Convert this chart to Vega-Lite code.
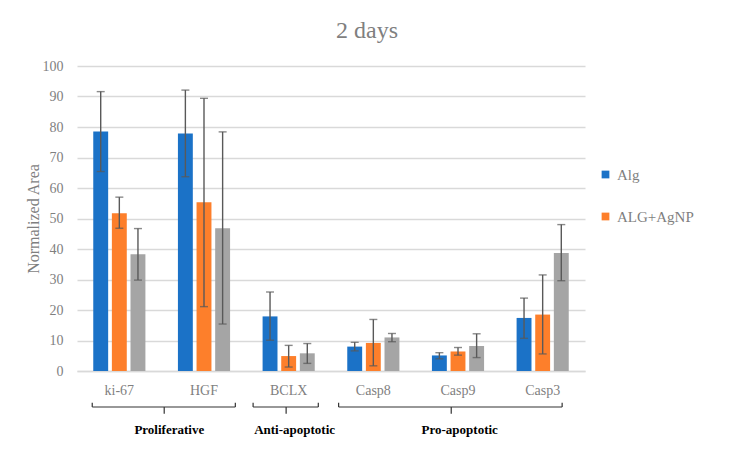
{
  "$schema": "https://vega.github.io/schema/vega-lite/v6.json",
  "autosize": "none",
  "width": 508,
  "height": 305,
  "padding": {"left": 77, "top": 66, "right": 151, "bottom": 87},
  "background": "white",
  "title": {"text": "2 days", "anchor": "middle", "frame": "group", "dx": 36, "offset": 16, "font": "Liberation Serif", "fontSize": 24, "fontWeight": "normal", "color": "#7f7f7f"},
  "config": {
    "view": {"stroke": null},
    "font": "Liberation Serif",
    "axisY": {"values": [0,10,20,30,40,50,60,70,80,90,100], "labelOverlap": false, "labelFontSize": 14, "labelColor": "#7f7f7f", "labelPadding": 14, "ticks": false, "domain": false, "gridColor": "#d9d9d9", "gridWidth": 1.3, "titleFontSize": 16, "titleFontWeight": "normal", "titleColor": "#7f7f7f", "titlePadding": 1}
  },
  "datasets": {
    "main": [
      {"cat": "ki-67", "series": "Alg", "value": 78.5, "lo": 65.4, "hi": 91.6},
      {"cat": "ki-67", "series": "ALG+AgNP", "value": 51.7, "lo": 46.8, "hi": 57.0},
      {"cat": "ki-67", "series": "AgNP", "value": 38.3, "lo": 29.8, "hi": 46.7},
      {"cat": "HGF", "series": "Alg", "value": 77.9, "lo": 63.7, "hi": 92.1},
      {"cat": "HGF", "series": "ALG+AgNP", "value": 55.3, "lo": 21.1, "hi": 89.4},
      {"cat": "HGF", "series": "AgNP", "value": 46.8, "lo": 15.4, "hi": 78.4},
      {"cat": "BCLX", "series": "Alg", "value": 17.9, "lo": 10.1, "hi": 25.9},
      {"cat": "BCLX", "series": "ALG+AgNP", "value": 4.9, "lo": 1.3, "hi": 8.4},
      {"cat": "BCLX", "series": "AgNP", "value": 5.8, "lo": 2.5, "hi": 9.0},
      {"cat": "Casp8", "series": "Alg", "value": 8.0, "lo": 6.6, "hi": 9.4},
      {"cat": "Casp8", "series": "ALG+AgNP", "value": 9.2, "lo": 1.7, "hi": 16.9},
      {"cat": "Casp8", "series": "AgNP", "value": 11.0, "lo": 9.6, "hi": 12.3},
      {"cat": "Casp9", "series": "Alg", "value": 5.1, "lo": 4.0, "hi": 6.0},
      {"cat": "Casp9", "series": "ALG+AgNP", "value": 6.4, "lo": 5.2, "hi": 7.7},
      {"cat": "Casp9", "series": "AgNP", "value": 8.2, "lo": 4.4, "hi": 12.2},
      {"cat": "Casp3", "series": "Alg", "value": 17.4, "lo": 10.7, "hi": 23.9},
      {"cat": "Casp3", "series": "ALG+AgNP", "value": 18.5, "lo": 5.6, "hi": 31.5},
      {"cat": "Casp3", "series": "AgNP", "value": 38.7, "lo": 29.6, "hi": 48.0}
    ],
    "brackets": [
      {"group": "Proliferative", "x0": 0.18, "x1": 1.87, "xm": 1.03, "xl": 1.09},
      {"group": "Anti-apoptotic", "x0": 2.08, "x1": 2.85, "xm": 2.47, "xl": 2.57},
      {"group": "Pro-apoptotic", "x0": 3.09, "x1": 5.73, "xm": 4.42, "xl": 4.52}
    ]
  },
  "resolve": {"scale": {"x": "independent"}},
  "layer": [
    {
      "data": {"name": "main"},
      "encoding": {
        "x": {"field": "cat", "type": "nominal", "sort": ["ki-67", "HGF", "BCLX", "Casp8", "Casp9", "Casp3"],
              "scale": {"paddingInner": 0.34, "paddingOuter": 0.17},
              "axis": {"title": null, "labelAngle": 0, "labelFontSize": 14, "labelColor": "#7f7f7f", "labelPadding": 12, "ticks": false, "domainColor": "#d9d9d9", "domainWidth": 1.3}},
        "xOffset": {"field": "series", "type": "nominal", "sort": ["Alg", "ALG+AgNP", "AgNP"], "scale": {"paddingInner": 0.2, "paddingOuter": 0.1}}
      },
      "layer": [
        {
          "mark": {"type": "bar"},
          "encoding": {
            "y": {"field": "value", "type": "quantitative",
                  "scale": {"domain": [0, 100]},
                  "axis": {"title": "Normalized Area"}},
            "color": {"field": "series", "type": "nominal",
                      "scale": {"domain": ["Alg", "ALG+AgNP", "AgNP"], "range": ["#1b72c7", "#fd7f2b", "#a5a5a5"]},
                      "legend": {"values": ["Alg", "ALG+AgNP"], "title": null, "orient": "none", "legendX": 521, "legendY": 101, "symbolType": "square", "symbolSize": 60, "symbolStrokeWidth": 0, "labelFontSize": 15, "labelColor": "#7f7f7f", "rowPadding": 26, "labelOffset": 4}}
          }
        },
        {
          "mark": {"type": "rule", "color": "#595959", "strokeWidth": 1.4},
          "encoding": {"y": {"field": "lo", "type": "quantitative", "axis": {"title": "Normalized Area"}}, "y2": {"field": "hi"}}
        },
        {
          "mark": {"type": "tick", "color": "#595959", "thickness": 1.4, "size": 8},
          "encoding": {"y": {"field": "lo", "type": "quantitative", "axis": {"title": "Normalized Area"}}}
        },
        {
          "mark": {"type": "tick", "color": "#595959", "thickness": 1.4, "size": 8},
          "encoding": {"y": {"field": "hi", "type": "quantitative", "axis": {"title": "Normalized Area"}}}
        }
      ]
    },
    {
      "data": {"name": "brackets"},
      "layer": [
        {
          "mark": {"type": "rule", "color": "#333333", "strokeWidth": 1.2},
          "encoding": {
            "x": {"field": "x0", "type": "quantitative", "scale": {"domain": [0, 6]}, "axis": null},
            "x2": {"field": "x1"},
            "y": {"datum": -11.8, "type": "quantitative", "axis": {"title": "Normalized Area"}}
          }
        },
        {
          "mark": {"type": "rule", "color": "#333333", "strokeWidth": 1.2},
          "encoding": {
            "x": {"field": "x0", "type": "quantitative"},
            "y": {"datum": -10.4, "type": "quantitative", "axis": {"title": "Normalized Area"}},
            "y2": {"datum": -11.8}
          }
        },
        {
          "mark": {"type": "rule", "color": "#333333", "strokeWidth": 1.2},
          "encoding": {
            "x": {"field": "x1", "type": "quantitative"},
            "y": {"datum": -10.4, "type": "quantitative", "axis": {"title": "Normalized Area"}},
            "y2": {"datum": -11.8}
          }
        },
        {
          "mark": {"type": "rule", "color": "#333333", "strokeWidth": 1.2},
          "encoding": {
            "x": {"field": "xm", "type": "quantitative"},
            "y": {"datum": -11.8, "type": "quantitative", "axis": {"title": "Normalized Area"}},
            "y2": {"datum": -14.0}
          }
        },
        {
          "mark": {"type": "text", "font": "Liberation Serif", "fontWeight": "bold", "fontSize": 13, "color": "#000000", "baseline": "middle"},
          "encoding": {
            "x": {"field": "xl", "type": "quantitative"},
            "y": {"datum": -19.2, "type": "quantitative", "axis": {"title": "Normalized Area"}},
            "text": {"field": "group"}
          }
        }
      ]
    }
  ]
}
